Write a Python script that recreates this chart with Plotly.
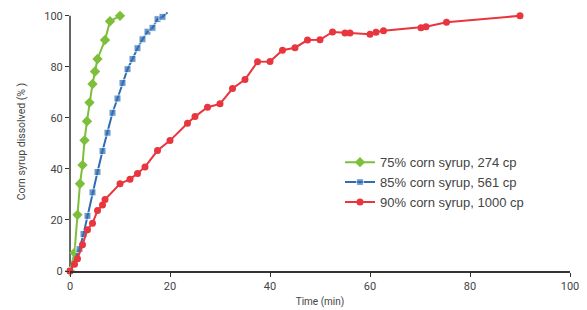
import plotly.graph_objects as go

# 75% corn syrup, 274 cp
g_x = [0, 0.9, 1.5, 2.0, 2.5, 2.9, 3.4, 3.9, 4.5, 5.0, 5.5, 7.0, 8.0, 10.0]
g_y = [0, 7.2, 22, 34.2, 41.5, 51.2, 58.7, 66, 73.3, 78.2, 83.1, 90.5, 97.9, 100]

# 85% corn syrup, 561 cp
b_x = [0, 1.9, 2.7, 3.5, 4.5, 5.5, 6.5, 7.5, 8.5, 9.5, 10.5, 11.5, 12.5, 13.5, 14.5, 15.5, 16.5, 17.5, 18.5, 19.5]
b_y = [0, 8.6, 14.5, 21.6, 30.8, 38.8, 47, 54.2, 62, 67.6, 73.7, 79.1, 83.1, 87.3, 90.8, 93.8, 95.3, 98.7, 99.6, 101.3]

# 90% corn syrup, 1000 cp
r_x = [0, 0.9, 1.5, 2.5, 3.5, 4.5, 5.5, 6.5, 7.0, 10, 12, 13.5, 15, 17.5, 20, 23.5, 25, 27.5, 30, 32.5,
       35, 37.5, 40, 42.5, 45, 47.5, 50, 52.5, 55, 56, 60, 61.2, 62.7, 70.2, 71.2, 75.3, 90]
r_y = [0, 2.6, 4.8, 10.3, 16.2, 18.7, 23.7, 25.9, 28, 34.2, 36, 38.2, 40.8, 47.2, 51.1, 57.9, 60.5, 64.2, 65.5, 71.5,
       75, 82, 82.1, 86.5, 87.5, 90.5, 90.6, 93.7, 93.3, 93.3, 92.8, 93.6, 94.2, 95.3, 95.7, 97.5, 100]

names = ["75% corn syrup, 274 cp", "85% corn syrup, 561 cp", "90% corn syrup, 1000 cp"]
colors = ["#7DBF3A", "#2E6DB4", "#E8353E"]
ticks = [0, 20, 40, 60, 80, 100]

fig = go.Figure()
fig.add_trace(go.Scatter(x=g_x, y=g_y, name=names[0], mode="lines+markers",
                         line=dict(color=colors[0], width=2),
                         marker=dict(symbol="diamond", size=8, color=colors[0]), cliponaxis=False))
b_sizes = [7] * (len(b_x) - 1) + [0]
fig.add_trace(go.Scatter(x=b_x, y=b_y, name=names[1], mode="lines+markers",
                         line=dict(color=colors[1], width=2),
                         marker=dict(symbol="square", size=b_sizes, color=colors[1]), cliponaxis=False))
fig.add_trace(go.Scatter(x=r_x, y=r_y, name=names[2], mode="lines+markers",
                         line=dict(color=colors[2], width=2),
                         marker=dict(symbol="circle", size=7, color=colors[2]), cliponaxis=False))

fig.add_shape(type="line", xref="paper", yref="y", x0=0, x1=0, y0=0, y1=100,
              line=dict(color="#333333", width=1.5), layer="below")

fig.update_layout(
    width=587, height=310,
    margin=dict(l=70, r=17, t=12, b=39),
    paper_bgcolor="white", plot_bgcolor="white",
    font=dict(family="Roboto, Arial, sans-serif", color="#444444", size=11),
    legend=dict(x=0.54, y=0.478, xanchor="left", yanchor="top",
                font=dict(family="Liberation Sans, Arial, sans-serif", size=13, color="#444444"),
                bgcolor="rgba(0,0,0,0)", tracegroupgap=0, itemwidth=30),
    xaxis=dict(range=[0, 100], tickvals=ticks, automargin=False,
               showline=True, linecolor="#333333", linewidth=1.5,
               ticks="outside", ticklen=4, tickcolor="#333333", showgrid=False, zeroline=False,
               title=dict(text="Time (min)", font=dict(size=10, color="#444444"), standoff=6)),
    yaxis=dict(range=[0, 101.5], tickvals=ticks, automargin=False,
               showline=False, ticks="outside", ticklen=4, tickcolor="#333333",
               showgrid=False, zeroline=False,
               title=dict(text="Corn syrup dissolved (% )", font=dict(size=10.5, color="#444444"), standoff=16)),
)

fig.write_html("out.html", post_script="document.body.style.margin='0';",
               config={"displayModeBar": False})
